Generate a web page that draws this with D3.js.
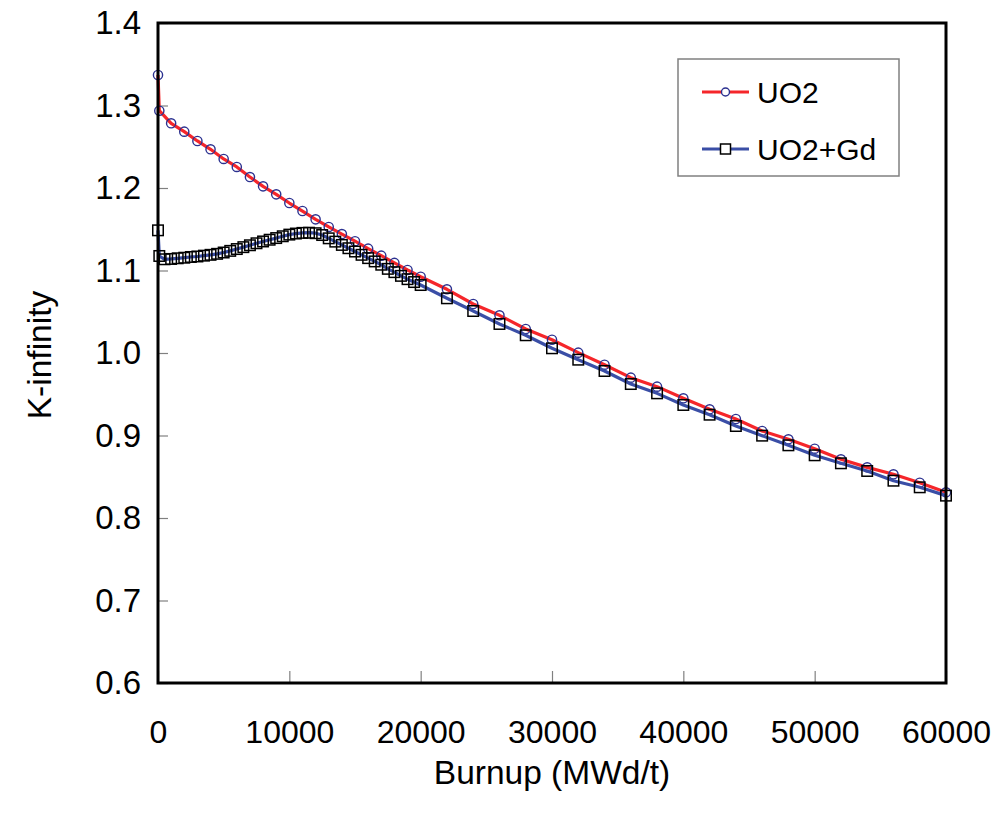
<!DOCTYPE html>
<html>
<head>
<meta charset="utf-8">
<script src="https://cdn.jsdelivr.net/npm/d3@7"></script>
<style>
  html, body { margin: 0; padding: 0; background: #fff; }
  text { font-family: "Liberation Sans", Arial, sans-serif; fill: #000; }
</style>
</head>
<body>
<svg id="chart" width="997" height="814"></svg>
<script>
// ---- data ----
const uo2Burnup = [0, 100, 1000, 2000, 3000, 4000, 5000, 6000, 7000, 8000, 9000, 10000,
  11000, 12000, 13000, 14000, 15000, 16000, 17000, 18000, 19000, 20000,
  22000, 24000, 26000, 28000, 30000, 32000, 34000, 36000, 38000, 40000,
  42000, 44000, 46000, 48000, 50000, 52000, 54000, 56000, 58000, 60000];
const uo2Kinf = [1.337, 1.2937, 1.2784, 1.2683, 1.257, 1.2469, 1.2352, 1.2255, 1.2133, 1.202, 1.1923, 1.1818,
  1.1721, 1.162, 1.1528, 1.1442, 1.1355, 1.1265, 1.118, 1.1092, 1.1006, 1.0925,
  1.0772, 1.0594, 1.0457, 1.0291, 1.0161, 1.0004, 0.9858, 0.9701, 0.9592, 0.9451,
  0.9317, 0.92, 0.9055, 0.8954, 0.884, 0.8711, 0.8614, 0.853, 0.8428, 0.8311];

const gdBurnup = [0, 100, 500, 1000, 1500, 2000, 2500, 3000, 3500, 4000, 4500, 5000,
  5500, 6000, 6500, 7000, 7500, 8000, 8500, 9000, 9500, 10000,
  10500, 11000, 11500, 12000, 12500, 13000, 13500, 14000, 14500, 15000,
  15500, 16000, 16500, 17000, 17500, 18000, 18500, 19000, 19500, 20000,
  22000, 24000, 26000, 28000, 30000, 32000, 34000, 36000, 38000, 40000,
  42000, 44000, 46000, 48000, 50000, 52000, 54000, 56000, 58000, 60000];
const gdKinf = [1.1487, 1.1176, 1.1136, 1.114, 1.1148, 1.1155, 1.1164, 1.117, 1.118, 1.119, 1.1202, 1.1218,
  1.1238, 1.126, 1.1283, 1.1306, 1.133, 1.1352, 1.1373, 1.1393, 1.1415, 1.1435,
  1.1448, 1.1456, 1.1458, 1.1452, 1.143, 1.139, 1.135, 1.131, 1.127, 1.123,
  1.119, 1.115, 1.111, 1.107, 1.102, 1.098, 1.0935, 1.0895, 1.086, 1.0824,
  1.0663, 1.0509, 1.0352, 1.0215, 1.0057, 0.9919, 0.9782, 0.9624, 0.9511, 0.937,
  0.9252, 0.9115, 0.8998, 0.8881, 0.876, 0.8663, 0.857, 0.8452, 0.8372, 0.8271];

const xTicks = [0, 10000, 20000, 30000, 40000, 50000, 60000];
const yTicks = [0.6, 0.7, 0.8, 0.9, 1.0, 1.1, 1.2, 1.3, 1.4];
const seriesNames = ["UO2", "UO2+Gd"];
const xTitle = "Burnup (MWd/t)";
const yTitle = "K-infinity";

// ---- layout ----
const svg = d3.select("#chart");
const pLeft = 158, pRight = 946, pTop = 23, pBottom = 683;
const x = d3.scaleLinear().domain([0, 60000]).range([pLeft, pRight]);
const y = d3.scaleLinear().domain([0.6, 1.4]).range([pBottom, pTop]);
const FS = 32;

svg.append("rect").attr("width", 997).attr("height", 814).attr("fill", "#fff");

// axes (ticks inward)
const xAxis = d3.axisBottom(x).tickValues(xTicks).tickFormat(d3.format("d"))
  .tickSize(-12).tickPadding(37);
const gx = svg.append("g").attr("transform", `translate(0,${pBottom})`).call(xAxis);
const yAxis = d3.axisLeft(y).tickValues(yTicks).tickFormat(d3.format(".1f"))
  .tickSize(-10).tickPadding(17);
const gy = svg.append("g").attr("transform", `translate(${pLeft},0)`).call(yAxis);
[gx, gy].forEach(g => {
  g.select(".domain").remove();
  g.selectAll(".tick line").attr("stroke", "#808080").attr("stroke-width", 1.2);
  g.selectAll(".tick text").attr("font-size", FS).attr("fill", "#000")
    .style("font-family", "'Liberation Sans', Arial, sans-serif");
});
gy.selectAll(".tick text").attr("font-size", 33);

// titles
svg.append("text").attr("x", 552).attr("y", 784)
  .attr("text-anchor", "middle").attr("font-size", 33.5).text(xTitle);
svg.append("text").attr("transform", "translate(51,355) rotate(-90)")
  .attr("text-anchor", "middle").attr("font-size", 33.5).text(yTitle);

// lines
const redCol = "#F5262A", blueCol = "#3A4EA6", circCol = "#2B3190";
const line = d3.line().x(d => x(d[0])).y(d => y(d[1]));
const uo2 = uo2Burnup.map((b, i) => [b, uo2Kinf[i]]);
const gd = gdBurnup.map((b, i) => [b, gdKinf[i]]);

svg.append("path").datum(uo2).attr("d", line).attr("fill", "none")
  .attr("stroke", redCol).attr("stroke-width", 3.2).attr("stroke-linejoin", "round");
svg.append("g").selectAll("circle").data(uo2).join("circle")
  .attr("cx", d => x(d[0])).attr("cy", d => y(d[1])).attr("r", 4.6)
  .attr("fill", "none").attr("stroke", circCol).attr("stroke-width", 1.4);

svg.append("path").datum(gd).attr("d", line).attr("fill", "none")
  .attr("stroke", blueCol).attr("stroke-width", 3.2).attr("stroke-linejoin", "round");
const sq = 10.5;
svg.append("g").selectAll("rect").data(gd).join("rect")
  .attr("x", d => x(d[0]) - sq / 2).attr("y", d => y(d[1]) - sq / 2)
  .attr("width", sq).attr("height", sq)
  .attr("fill", "none").attr("stroke", "#000").attr("stroke-width", 1.5);

// frame
svg.append("rect").attr("x", pLeft).attr("y", pTop).attr("width", pRight - pLeft).attr("height", pBottom - pTop)
  .attr("fill", "none").attr("stroke", "#000").attr("stroke-width", 3);

// legend
const lg = svg.append("g");
lg.append("rect").attr("x", 678).attr("y", 59).attr("width", 221).attr("height", 117)
  .attr("fill", "#fff").attr("stroke", "#808080").attr("stroke-width", 1.5);
const legY = [92, 149];
const legCols = [redCol, blueCol];
seriesNames.forEach((name, i) => {
  lg.append("line").attr("x1", 702).attr("x2", 749).attr("y1", legY[i]).attr("y2", legY[i])
    .attr("stroke", legCols[i]).attr("stroke-width", 3.2);
  if (i === 0) {
    lg.append("circle").attr("cx", 725.5).attr("cy", legY[i]).attr("r", 4)
      .attr("fill", "#fff").attr("stroke", circCol).attr("stroke-width", 1.4);
  } else {
    lg.append("rect").attr("x", 725.5 - 5).attr("y", legY[i] - 5).attr("width", 10).attr("height", 10)
      .attr("fill", "#fff").attr("stroke", "#000").attr("stroke-width", 1.5);
  }
  lg.append("text").attr("x", 757).attr("y", legY[i]).attr("dy", "0.36em")
    .attr("font-size", 30).text(name);
});
</script>
</body>
</html>
